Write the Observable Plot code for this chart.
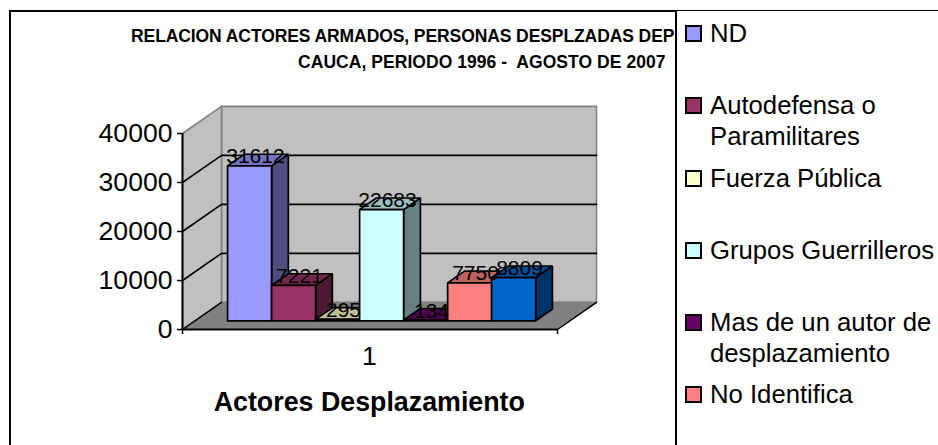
<!DOCTYPE html>
<html><head><meta charset="utf-8">
<script src="https://cdn.jsdelivr.net/npm/d3@7"></script>
<script src="https://cdn.jsdelivr.net/npm/@observablehq/plot@0.6"></script>
<style>
html,body{margin:0;padding:0;background:#fff;overflow:hidden}
#c{position:relative;width:938px;height:445px;font-family:"Liberation Sans",Arial,sans-serif;color:#000}
#c svg{position:absolute;left:0;top:0;background:transparent}
#frame{position:absolute;left:9px;top:10px;right:-4px;bottom:-4px;border:2px solid #000}
#title{position:absolute;left:11px;top:23px;width:664px;height:60px;overflow:hidden;font-weight:bold;font-size:17.5px;line-height:26px;white-space:nowrap}
#title div{position:absolute;white-space:pre}
#legend{position:absolute;left:675px;top:11px;width:263px;height:434px;background:#fff;border-left:2px solid #000;box-sizing:border-box;padding-top:7px}
.row{height:72.3px;display:flex;align-items:flex-start;padding-left:8px;font-size:25.7px;line-height:30.6px}
.sw{flex:none;width:13px;height:13px;border:2px solid #000;margin-top:7px;margin-right:8px}
</style></head><body>
<div id="c"></div>
<script>
const categories = ["ND","Autodefensa o\nParamilitares","Fuerza Pública","Grupos Guerrilleros","Mas de un autor de\ndesplazamiento","No Identifica","Sin dato"];
const values = [31612,7221,295,22683,134,7750,8809];
const frontColors = ["#9999FF","#993366","#FFFFCC","#CCFFFF","#660066","#FF8080","#0066CC"];
const sideColors  = ["#4D4D80","#4D1A33","#808066","#668080","#330033","#804040","#003366"];
const topColors   = ["#7373BF","#73264D","#BFBF99","#99BFBF","#4D004D","#BF6060","#004D99"];
const legendCount = 6;
const yTicks = [0,10000,20000,30000,40000];
const gridValues = [10000,20000,30000];
const titleLines = ["RELACION ACTORES ARMADOS, PERSONAS DESPLZADAS DEP","CAUCA, PERIODO 1996 -  AGOSTO DE 2007"];
const xLabel = "Actores Desplazamiento";
const groupLabel = "1";

// chart space: u = bar widths along the front edge, v = value, d = depth 0..1
const U_MAX = 8.52, V_MAX = 40000;
const DU = 39/44, DV = 27*40000/195;
const D0 = 0.32, D1 = 0.75, U0 = 0.74;
const P = (u,v,d)=>({x:u+d*DU, y:v+d*DV});
let faceId = 0;
const face = (corners, fill)=>{
  const id = faceId++;
  return [...corners,corners[0]].map(c=>({...P(...c),id,fill}));
};
const backFaces = [
  ...face([[0,0,1],[U_MAX,0,1],[U_MAX,V_MAX,1],[0,V_MAX,1]],"#C0C0C0"),
  ...face([[0,0,0],[0,0,1],[0,V_MAX,1],[0,V_MAX,0]],"#C0C0C0")
];
const floorFace = face([[0,0,0],[U_MAX,0,0],[U_MAX,0,1],[0,0,1]],"#808080");
const floorEdges = [
  [P(0,0,0),P(0,0,1)],
  [P(U_MAX,0,0),P(U_MAX,0,1)]
].flatMap((s,i)=>s.map(p=>({...p,id:i})));
const grid = gridValues.flatMap(v=>[P(0,v,0),P(0,v,1),P(U_MAX,v,1)].map(p=>({...p,id:v})));
const barFaces = values.flatMap((v,i)=>{
  const a=U0+i,b=a+1;
  return [
    ...face([[b,0,D0],[b,0,D1],[b,v,D1],[b,v,D0]],sideColors[i]),
    ...face([[a,v,D0],[b,v,D0],[b,v,D1],[a,v,D1]],topColors[i]),
    ...face([[a,0,D0],[b,0,D0],[b,v,D0],[a,v,D0]],frontColors[i])
  ];
});
const labels = values.map((v,i)=>({...P(U0+i+.5,v,(D0+D1)/2),v}));
const center = U0+3.5+D0*DU-0.28;

const plot = Plot.plot({
  width:938,height:445,
  marginLeft:182,marginRight:381,marginTop:133,marginBottom:116,
  x:{domain:[0,U_MAX]},
  y:{domain:[0,V_MAX]},
  color:{type:"identity"},
  style:{fontFamily:"'Liberation Sans',Arial,sans-serif",fontSize:"20px",color:"#000",background:"transparent",overflow:"visible"},
  marks:[
    Plot.line(backFaces,{x:"x",y:"y",z:"id",fill:"fill",stroke:"#808080",strokeWidth:1.6}),
    Plot.line(floorFace,{x:"x",y:"y",z:"id",fill:"fill",stroke:"#808080",strokeWidth:1}),
    Plot.line(grid,{x:"x",y:"y",z:"id",stroke:"#000",strokeWidth:1.6}),
    Plot.line(floorEdges,{x:"x",y:"y",z:"id",stroke:"#000",strokeWidth:1.5}),
    Plot.line(barFaces,{x:"x",y:"y",z:"id",fill:"fill",stroke:"#000",strokeWidth:1.7,strokeLinejoin:"miter"}),
    Plot.ruleX([0],{y1:0,y2:V_MAX,stroke:"#000",strokeWidth:2}),
    Plot.ruleY([0],{x1:0,x2:U_MAX,stroke:"#000",strokeWidth:2}),
    Plot.axisY({ticks:yTicks,tickSize:5,tickPadding:5,tickFormat:d=>String(d),stroke:"#000",strokeWidth:1.5,fontSize:26.6,label:null}),
    Plot.axisX({ticks:[0,U_MAX],tickSize:5,tickFormat:()=>"",stroke:"#000",strokeWidth:1.5,label:null}),
    Plot.text(labels,{x:"x",y:"y",text:d=>String(d.v),dx:-2.5,dy:-3.5,fontSize:21,fill:"#000",lineAnchor:"middle",textAnchor:"middle"}),
    Plot.text([groupLabel],{x:()=>center,y:()=>0,dy:27,fontSize:26.6,fill:"#000",text:d=>d}),
    Plot.text([xLabel],{x:()=>center,y:()=>0,dy:73,fontSize:26.8,fontWeight:"bold",fill:"#000",text:d=>d})
  ]
});
const root = document.getElementById("c");
root.append(plot);
const frame = document.createElement("div"); frame.id="frame"; root.append(frame);
const title = document.createElement("div"); title.id="title";
titleLines.forEach((t,i)=>{
  const l=document.createElement("div"); l.textContent=t;
  l.style.left=(i?287:120)+"px"; l.style.top=(i*26)+"px";
  l.style.letterSpacing=i?"0.05px":"-0.09px"; title.append(l);
});
root.append(title);
const legend = document.createElement("div"); legend.id="legend";
categories.slice(0,legendCount).forEach((c,i)=>{
  const row=document.createElement("div"); row.className="row";
  const sw=document.createElement("div"); sw.className="sw"; sw.style.background=frontColors[i];
  const tx=document.createElement("div"); tx.style.whiteSpace="pre"; tx.textContent=c;
  row.append(sw,tx); legend.append(row);
});
root.append(legend);
</script>
</body></html>
